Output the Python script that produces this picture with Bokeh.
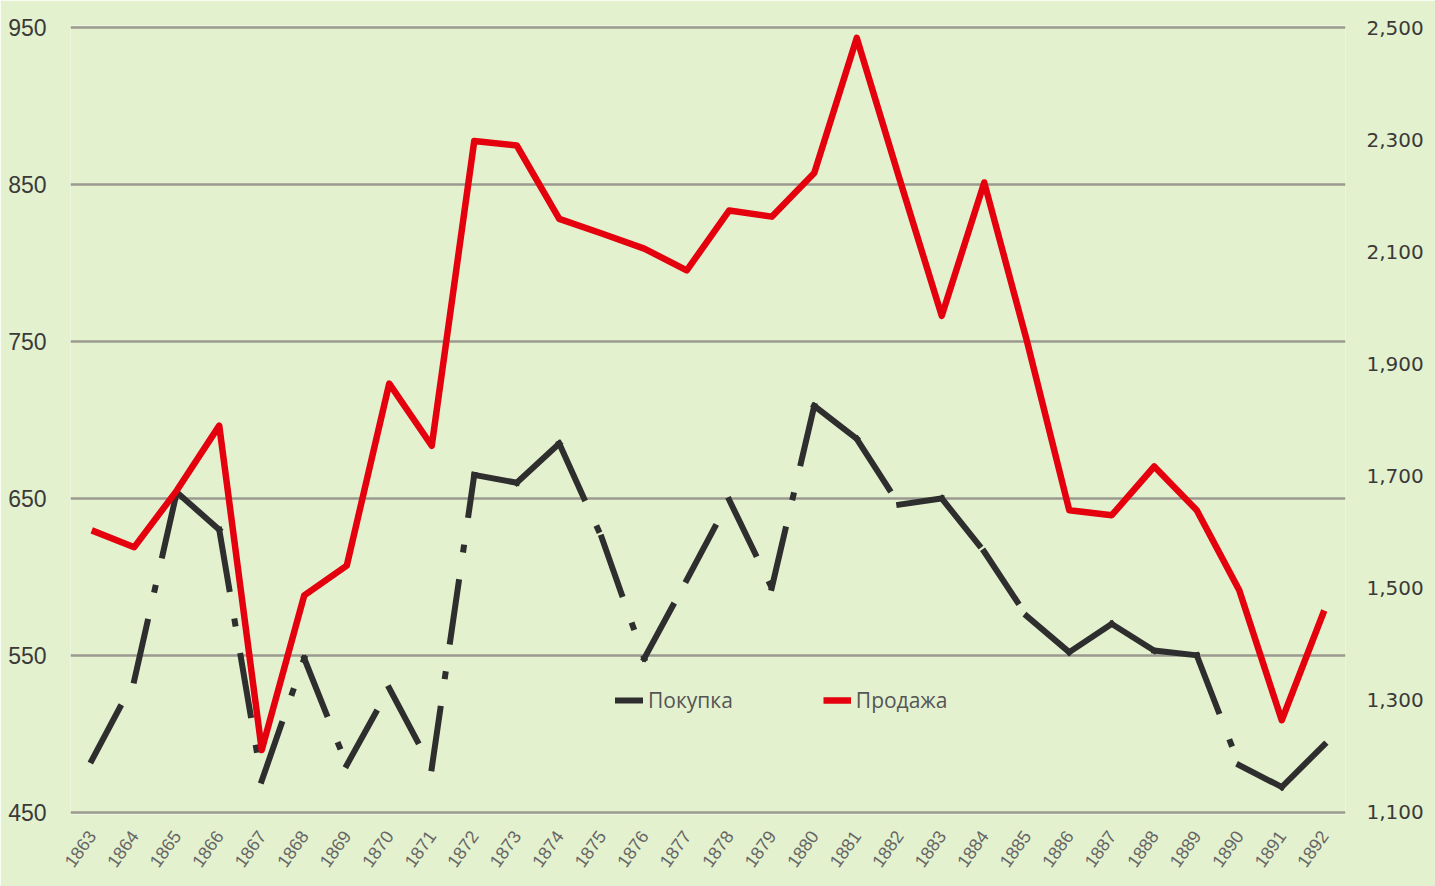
from bokeh.plotting import figure
from bokeh.models import (Range1d, LinearAxis, FixedTicker, NumeralTickFormatter,
                          Legend, LegendItem, FactorRange)
from bokeh.embed import file_html
from bokeh.resources import INLINE

years = ["1863", "1864", "1865", "1866", "1867", "1868", "1869", "1870", "1871", "1872",
         "1873", "1874", "1875", "1876", "1877", "1878", "1879", "1880", "1881", "1882",
         "1883", "1884", "1885", "1886", "1887", "1888", "1889", "1890", "1891", "1892"]
buy = [483, 534, 654, 630, 470, 548, 480, 529, 478, 665,
       660, 685, 625, 548, 598, 649, 593, 709, 688, 646,
       650, 616, 575, 552, 570, 553, 550, 480, 466, 493]
sell = [1603, 1573, 1674, 1790, 1211, 1487, 1540, 1865, 1754, 2298,
        2290, 2159, 2133, 2106, 2067, 2174, 2163, 2241, 2482, 2232,
        1986, 2224, 1942, 1639, 1630, 1717, 1639, 1496, 1264, 1460]
left_ticks = [450, 550, 650, 750, 850, 950]
right_ticks = [1100, 1300, 1500, 1700, 1900, 2100, 2300, 2500]
buy_label = "Покупка"
sell_label = "Продажа"

BG = "#e4f1cf"

# tiny padding so that the edge gridlines (450 and 950) are not clipped
pad_l = 1.5
pad_r = pad_l * (right_ticks[-1] - right_ticks[0]) / (left_ticks[-1] - left_ticks[0])

p = figure(width=1435, height=886,
           x_range=FactorRange(*years, range_padding=0),
           y_range=Range1d(left_ticks[0] - pad_l, left_ticks[-1] + pad_l),
           output_backend="svg", toolbar_location=None,
           min_border_left=70, min_border_right=90,
           min_border_top=25, min_border_bottom=72)
p.background_fill_color = BG
p.border_fill_color = BG
p.outline_line_color = None

p.extra_y_ranges = {"sell": Range1d(right_ticks[0] - pad_r, right_ticks[-1] + pad_r)}

# left axis
p.yaxis.ticker = FixedTicker(ticks=left_ticks)
p.yaxis.axis_line_color = None
p.yaxis.major_tick_line_color = None
p.yaxis.minor_tick_line_color = None
p.yaxis.major_label_standoff = 18
p.yaxis.major_label_text_font = "Liberation Sans"
p.yaxis.major_label_text_font_size = "23px"
p.yaxis.major_label_text_color = "#3a3a3a"

# right axis
ra = LinearAxis(y_range_name="sell", ticker=FixedTicker(ticks=right_ticks),
                formatter=NumeralTickFormatter(format="0,0"))
ra.axis_line_color = None
ra.major_tick_line_color = None
ra.minor_tick_line_color = None
ra.major_label_standoff = 15
ra.major_label_text_font = "DejaVu Sans"
ra.major_label_text_font_size = "20px"
ra.major_label_text_color = "#3a3a3a"
p.add_layout(ra, "right")

# x axis
p.xaxis.axis_line_color = None
p.xaxis.major_tick_line_color = None
p.xaxis.minor_tick_line_color = None
p.xaxis.major_label_orientation = 0.95
p.xaxis.major_label_standoff = 12
p.xaxis.major_label_text_font = "Liberation Sans"
p.xaxis.major_label_text_font_size = "18px"
p.xaxis.major_label_text_color = "#666666"

# grid
p.xgrid.grid_line_color = None
p.ygrid.ticker = FixedTicker(ticks=left_ticks)
p.ygrid.grid_line_color = "#9a9a90"
p.ygrid.grid_line_width = 2.5

# black dash-dot line, pattern restarting on each segment
xs = [[years[i], years[i + 1]] for i in range(len(years) - 1)]
ys = [[buy[i], buy[i + 1]] for i in range(len(buy) - 1)]
black = p.multi_line(xs, ys, line_color="#2e2e2e", line_width=6,
                     line_dash="60 33 2 33", line_cap="square")

red = p.line(years, sell, y_range_name="sell", line_color="#e5000e",
             line_width=6.5, line_join="round")

legend = Legend(items=[LegendItem(label=buy_label, renderers=[black]),
                       LegendItem(label=sell_label, renderers=[red])],
                orientation="horizontal", location=(545, 100),
                glyph_width=28, glyph_height=20, label_standoff=5, spacing=90,
                padding=0, margin=0, background_fill_alpha=0, border_line_alpha=0,
                label_text_font="Open Sans", label_text_font_size="21px",
                label_text_color="#555555")
p.add_layout(legend)

open("out.html", "w").write(file_html(p, INLINE))
